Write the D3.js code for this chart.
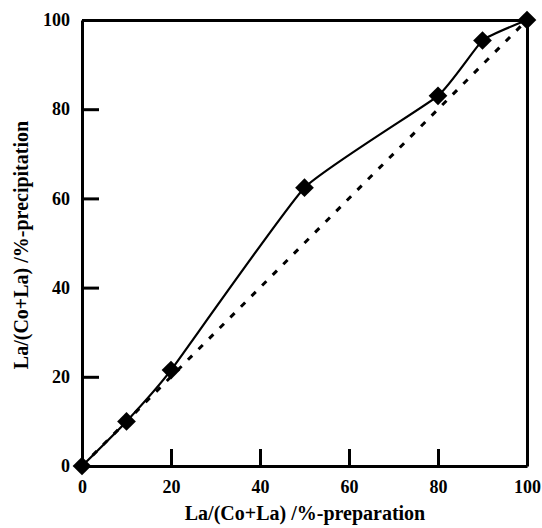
<!DOCTYPE html>
<html>
<head>
<meta charset="utf-8">
<script src="https://cdn.jsdelivr.net/npm/d3@7"></script>
<style>
  html, body { margin: 0; padding: 0; background: #fff; }
  svg { display: block; }
  text { font-family: "Liberation Serif", "Times New Roman", serif; font-weight: bold; fill: #000; }
</style>
</head>
<body>
<svg id="chart" width="542" height="528"></svg>
<script>
// La fraction in preparation vs. in precipitate (%)
const preparation = [0, 10, 20, 50, 80, 90, 100];
const precipitation = [0, 10, 21.5, 62.4, 83, 95.4, 100];
const xTicks = [0, 20, 40, 60, 80, 100];
const yTicks = [0, 20, 40, 60, 80, 100];
const diagonal = [0, 100];
const xTitle = "La/(Co+La) /%-preparation";
const yTitle = "La/(Co+La) /%-precipitation";

const svg = d3.select("#chart");
const plotLeft = 82, plotRight = 527, plotTop = 20, plotBottom = 466;

const x = d3.scaleLinear().domain([0, 100]).range([plotLeft, plotRight]);
const y = d3.scaleLinear().domain([0, 100]).range([plotBottom, plotTop]);

// ideal 1:1 line
svg.append("path")
  .datum(diagonal)
  .attr("d", d3.line().x(d => x(d)).y(d => y(d)))
  .attr("fill", "none")
  .attr("stroke", "#000")
  .attr("stroke-width", 3)
  .attr("stroke-dasharray", "6,9");

// measured curve
const pts = preparation.map((p, i) => [p, precipitation[i]]);
svg.append("path")
  .datum(pts)
  .attr("d", d3.line().x(d => x(d[0])).y(d => y(d[1])).curve(d3.curveCardinal.tension(0.6)))
  .attr("fill", "none")
  .attr("stroke", "#000")
  .attr("stroke-width", 2.2);

// axes
const xAxis = svg.append("g").attr("transform", `translate(0,${plotBottom})`)
  .call(d3.axisBottom(x).tickValues(xTicks).tickSizeInner(-17).tickSizeOuter(0).tickPadding(20));
const yAxis = svg.append("g").attr("transform", `translate(${plotLeft},0)`)
  .call(d3.axisLeft(y).tickValues(yTicks).tickSizeInner(-17).tickSizeOuter(0).tickPadding(12));
const topAxis = svg.append("g").attr("transform", `translate(0,${plotTop})`)
  .call(d3.axisTop(x).ticks(20).tickSizeInner(-2).tickSizeOuter(0).tickFormat(""));
const rightAxis = svg.append("g").attr("transform", `translate(${plotRight},0)`)
  .call(d3.axisRight(y).tickValues([]).tickSizeOuter(0));

[xAxis, yAxis, topAxis, rightAxis].forEach(g => {
  g.select(".domain").attr("stroke", "#000").attr("stroke-width", 3);
  g.selectAll(".tick line").attr("stroke", "#000").attr("stroke-width", 3);
  g.selectAll(".tick text").style("font-family", "'Liberation Serif', serif")
    .style("font-weight", "bold").style("font-size", "18px").attr("fill", "#000");
});
topAxis.selectAll(".tick line").attr("stroke-width", 1);
xAxis.selectAll(".tick text").attr("dy", "0.32em").attr("y", 21);
yAxis.selectAll(".tick text").attr("x", -12);

// markers
svg.append("g").selectAll("path")
  .data(pts)
  .join("path")
  .attr("transform", d => `translate(${x(d[0])},${y(d[1])}) rotate(45)`)
  .attr("d", d3.symbol().type(d3.symbolSquare).size(175))
  .attr("fill", "#000");

// axis titles
svg.append("text")
  .attr("x", 305).attr("y", 520)
  .attr("text-anchor", "middle")
  .style("font-size", "20px")
  .text(xTitle);
svg.append("text")
  .attr("transform", "translate(28,245) rotate(-90)")
  .attr("text-anchor", "middle")
  .style("font-size", "20px")
  .text(yTitle);
</script>
</body>
</html>
